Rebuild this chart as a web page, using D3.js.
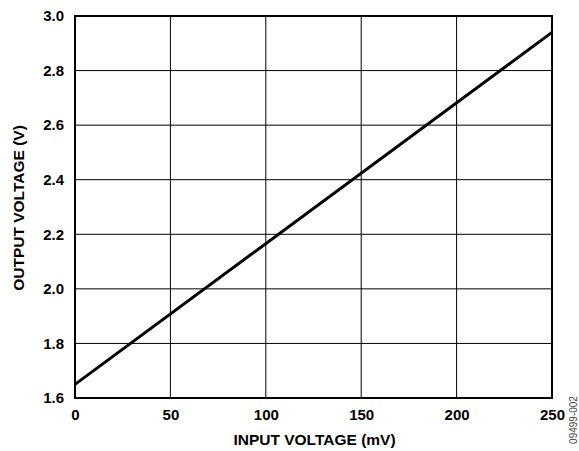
<!DOCTYPE html>
<html>
<head>
<meta charset="utf-8">
<script src="https://cdn.jsdelivr.net/npm/d3@7"></script>
<style>
  body { margin: 0; background: #fff; }
  text { font-family: "Liberation Sans", Arial, sans-serif; font-weight: bold; }
</style>
</head>
<body>
<div id="chart"></div>
<script>
// values
var inputMv = [0, 250];
var outputV = [1.65, 2.94];
var xTicks = [0, 50, 100, 150, 200, 250];
var yTicks = [1.6, 1.8, 2.0, 2.2, 2.4, 2.6, 2.8, 3.0];

var W = 579, H = 451;
var margin = { top: 16, right: 27, bottom: 53, left: 75 },
    width = W - margin.left - margin.right,
    height = H - margin.top - margin.bottom;

var svg = d3.select("#chart").append("svg")
    .attr("width", W)
    .attr("height", H);

var g = svg.append("g")
    .attr("transform", "translate(" + margin.left + "," + margin.top + ")");

var x = d3.scaleLinear().domain([0, 250]).range([0, width]);
var y = d3.scaleLinear().domain([1.6, 3.0]).range([height, 0]);

// grid
g.selectAll(".vgrid").data(xTicks).enter().append("line")
    .attr("x1", d => x(d)).attr("x2", d => x(d))
    .attr("y1", 0).attr("y2", height)
    .attr("stroke", "#000").attr("stroke-width", 1);
g.selectAll(".hgrid").data(yTicks).enter().append("line")
    .attr("x1", 0).attr("x2", width)
    .attr("y1", d => y(d)).attr("y2", d => y(d))
    .attr("stroke", "#000").attr("stroke-width", 1);

// frame
g.append("rect")
    .attr("width", width).attr("height", height)
    .attr("fill", "none").attr("stroke", "#000").attr("stroke-width", 2);

// axes (labels only)
var xAxis = g.append("g")
    .attr("transform", "translate(0," + height + ")")
    .call(d3.axisBottom(x).tickValues(xTicks).tickSize(0).tickPadding(11).tickFormat(d3.format("d")));
var yAxis = g.append("g")
    .call(d3.axisLeft(y).tickValues(yTicks).tickSize(0).tickPadding(11).tickFormat(d3.format(".1f")));
[xAxis, yAxis].forEach(a => {
    a.select(".domain").remove();
    a.selectAll("text").style("font-size", "15px").attr("fill", "#000")
        .style("font-family", "'Liberation Sans', Arial, sans-serif").style("font-weight", "bold");
});

// data line
var pts = inputMv.map((d, i) => [d, outputV[i]]);
g.append("path")
    .datum(pts)
    .attr("fill", "none")
    .attr("stroke", "#000")
    .attr("stroke-width", 3)
    .attr("d", d3.line().x(d => x(d[0])).y(d => y(d[1])));

// titles
svg.append("text")
    .attr("x", margin.left + width / 2 + 1).attr("y", 445)
    .attr("text-anchor", "middle")
    .style("font-size", "15.5px")
    .text("INPUT VOLTAGE (mV)");

svg.append("text")
    .attr("transform", "translate(24," + (margin.top + height / 2 + 1) + ") rotate(-90)")
    .attr("text-anchor", "middle")
    .style("font-size", "15.5px")
    .text("OUTPUT VOLTAGE (V)");

svg.append("text")
    .attr("transform", "translate(577,420) rotate(-90)")
    .attr("text-anchor", "middle")
    .style("font-size", "10px")
    .style("font-weight", "normal")
    .attr("fill", "#444")
    .text("09499-002");
</script>
</body>
</html>
